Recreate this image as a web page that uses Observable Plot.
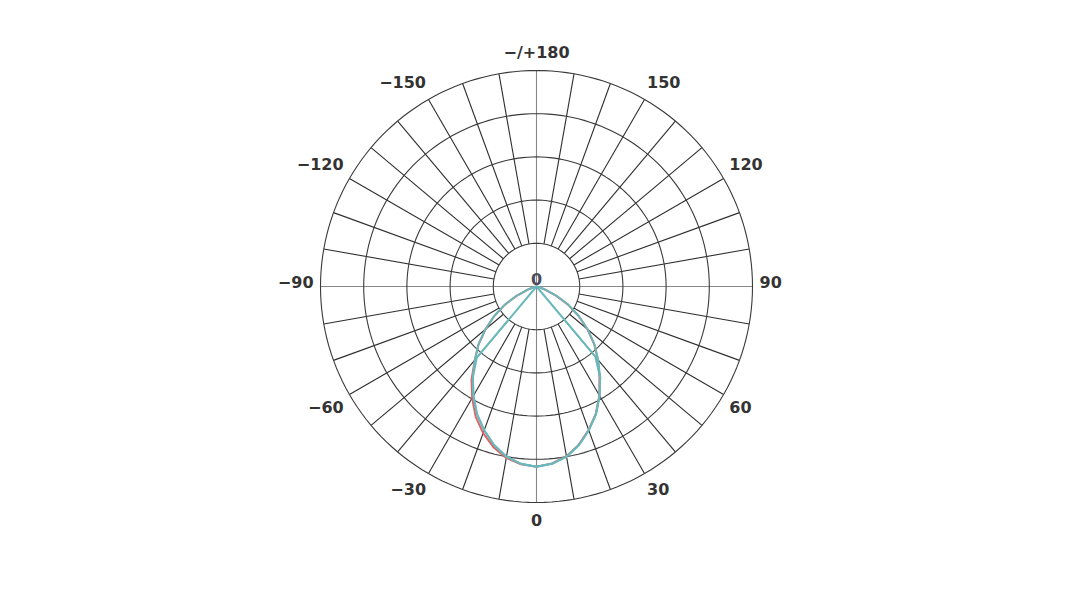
<!DOCTYPE html>
<html>
<head>
<meta charset="utf-8">
<script src="https://cdn.jsdelivr.net/npm/d3@7"></script>
<script src="https://cdn.jsdelivr.net/npm/@observablehq/plot@0.6"></script>
<style>
  html, body { margin: 0; padding: 0; background: #ffffff; }
  #chart svg { display: block; }
</style>
</head>
<body>
<div id="chart"></div>
<script>
// ---- data ----
const gamma = [-90,-85,-80,-75,-70,-65,-60,-55,-50,-45,-40,-35,-30,-25,-20,-15,-10,-5,0,5,10,15,20,25,30,35,40,45,50,55,60,65,70,75,80,85,90];

// C-plane intensity curves (cd/klm)
const redCurve   = [0,0,0,6,22,50,85,120,154,190,222,262,298,333,361,385,403,413,417,411,399,379,353,325,291,254,221,189,154,119,85,50,22,6,0,0,0];
const tealCurve  = [0,0,0,7,23,51,86,120,155,190,222,257,292,326,354,380,400,412,417,412,400,380,354,326,292,257,222,190,155,120,86,51,23,7,0,0,0];
const tealInner  = [0,0,0,0,0,0,0,0,0,0,215,257,292,326,354,380,400,412,417,412,400,380,354,326,292,257,212,0,0,0,0,0,0,0,0,0,0];

const ringValues = [100, 200, 300, 400, 500];
const spokeAngles = d3.range(-170, 181, 10);
const axisAngles = [0, 90, 180, -90];
const labelAngles = [0, 30, 60, 90, 120, 150, 180, -150, -120, -90, -60, -30];
const labelTexts  = ["0", "30", "60", "90", "120", "150", "\u2212/+180", "\u2212150", "\u2212120", "\u221290", "\u221260", "\u221230"];
const centerLabel = "0";

const seriesNames  = ["red", "teal", "tealInner"];
const seriesColors = ["#e06464", "#68b8bc", "#68b8bc"];

// ---- helpers (polar -> cartesian in data units) ----
const rad = d => d * Math.PI / 180;
const px = (g, r) => r * Math.sin(rad(g));
const py = (g, r) => -r * Math.cos(rad(g));

const W = 1072, H = 604;
const outer = 500;
const scalePx = 216 / outer;            // px per unit
const cxPx = 536, cyPx = 286;
const labelFont = "bold 16px 'DejaVu Sans'";

// rings
const ringPts = [];
for (const r of ringValues) {
  for (let a = 0; a <= 360; a += 2) ringPts.push({ring: r, x: px(a, r), y: py(a, r)});
}
// spokes
const spokes = spokeAngles
  .filter(a => !axisAngles.includes(a))
  .map(a => ({x1: px(a, ringValues[0]), y1: py(a, ringValues[0]), x2: px(a, outer), y2: py(a, outer)}));
const axes = axisAngles.map(a => ({x1: 0, y1: 0, x2: px(a, outer), y2: py(a, outer)}));

// curves
const curveRows = [];
const curveSets = [redCurve, tealCurve, tealInner];
curveSets.forEach((vals, k) => {
  vals.forEach((v, i) => curveRows.push({series: seriesNames[k], g: gamma[i], v, x: px(gamma[i], v), y: py(gamma[i], v)}));
});

// labels: anchored just outside the outer ring, text box pushed outward
const ctx = document.createElement("canvas").getContext("2d");
ctx.font = labelFont;
const labelR = 225 / scalePx;
const labels = labelAngles.map((a, i) => {
  const w = ctx.measureText(labelTexts[i]).width;
  const sn = Math.round(Math.sin(rad(a)) * 1e6) / 1e6;
  const cs = Math.round(Math.cos(rad(a)) * 1e6) / 1e6;
  const dx = Math.sign(sn) * (w / 2 - 2);
  const dy = cs === 0 ? -4 : Math.sign(cs) * 9;
  return {text: labelTexts[i], x: px(a, labelR), y: py(a, labelR), dx, dy};
});

const chart = Plot.plot({
  width: W,
  height: H,
  margin: 0,
  x: {domain: [-cxPx / scalePx, (W - cxPx) / scalePx], axis: null},
  y: {domain: [-(H - cyPx) / scalePx, cyPx / scalePx], axis: null},
  color: {domain: seriesNames, range: seriesColors},
  style: {background: "#ffffff", fontFamily: "DejaVu Sans, sans-serif"},
  marks: [
    Plot.link(axes, {x1: "x1", y1: "y1", x2: "x2", y2: "y2", stroke: "#888888", strokeWidth: 1.1}),
    Plot.link(spokes, {x1: "x1", y1: "y1", x2: "x2", y2: "y2", stroke: "#2e2e2e", strokeWidth: 1.1}),
    Plot.line(ringPts, {x: "x", y: "y", z: "ring", stroke: "#3a3a3a", strokeWidth: 1.1, curve: "linear"}),
    Plot.line(curveRows, {x: "x", y: "y", z: "series", stroke: "series", strokeWidth: 2, curve: "linear"}),
    ...labels.map(l => Plot.text([l], {x: "x", y: "y", text: "text", dx: l.dx, dy: l.dy, fontSize: 16, fontWeight: 700, fill: "#333333"})),
    Plot.text([centerLabel], {x: () => 0, y: () => 0, text: d => d, dy: -7, fontSize: 16, fontWeight: 700, fill: "#4a4a5a"})
  ]
});
document.getElementById("chart").appendChild(chart);
</script>
</body>
</html>
